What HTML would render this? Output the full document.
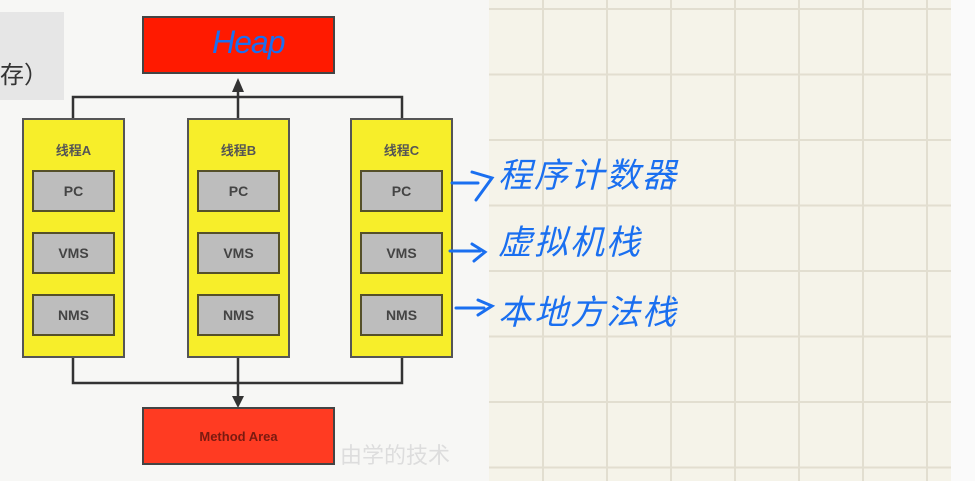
<!DOCTYPE html>
<html><head><meta charset="utf-8"><style>
body{margin:0;width:975px;height:481px;overflow:hidden;background:#f7f7f5;position:relative;font-family:"Liberation Sans","Noto Sans CJK SC",sans-serif}
.a{position:absolute;box-sizing:border-box}
.y{background:#f7ee2a;border:2px solid #555;}
.g{background:#bdbdbd;border:2px solid #55502a;font-weight:bold;color:#444;font-size:14px;display:flex;align-items:center;justify-content:center}
.hw{position:absolute;color:#1a6ff0;font-size:34px;font-family:"WenQuanYi Zen Hei","Noto Sans CJK SC",sans-serif;font-style:italic;letter-spacing:2px}
</style></head><body>
<div class="a" style="left:489px;top:0;width:462px;height:481px;background:#f5f3e9;
background-image:linear-gradient(#e2ded0 2px,transparent 2px),linear-gradient(90deg,#e2ded0 2px,transparent 2px);
background-size:64px 65.5px;background-position:53px 8px"></div>
<div class="a" style="left:951px;top:0;width:24px;height:481px;background:#fafafa"></div>
<div class="a" style="left:0;top:12px;width:64px;height:88px;background:#e6e6e6;font-size:24px;color:#333;padding-top:50px;line-height:28px">存）</div>
<div class="a" style="left:142px;top:16px;width:193px;height:58px;background:#ff1a00;border:2px solid #444"></div>
<div class="hw" style="left:212px;top:24px;font-family:'Liberation Sans',sans-serif;font-size:32px;letter-spacing:-1px">Heap</div>
<svg class="a" style="left:0;top:0" width="490" height="481">
<g stroke="#333" stroke-width="2.5" fill="none">
<path d="M73 118V97H402V118M238 118V88"/>
<path d="M73 358V383H402V358M238 358V398"/>
</g>
<path d="M232 92L238 78L244 92Z" fill="#333"/>
<path d="M232 396L238 408L244 396Z" fill="#333"/>
</svg>
<div class="a" style="left:142px;top:407px;width:193px;height:58px;background:#ff3b22;border:2px solid #444;display:flex;align-items:center;justify-content:center;color:#7a1a10;font-weight:bold;font-size:13px">Method Area</div>
<div class="a" style="left:340px;top:438px;color:#ddd;font-size:22px">由学的技术</div>

<div class="a y" style="left:22px;top:118px;width:103px;height:240px"></div>
<div class="a y" style="left:187px;top:118px;width:103px;height:240px"></div>
<div class="a y" style="left:350px;top:118px;width:103px;height:240px"></div>
<div class="a" style="left:22px;top:140px;width:103px;text-align:center;font-size:13px;font-weight:bold;color:#555">线程A</div>
<div class="a" style="left:187px;top:140px;width:103px;text-align:center;font-size:13px;font-weight:bold;color:#555">线程B</div>
<div class="a" style="left:350px;top:140px;width:103px;text-align:center;font-size:13px;font-weight:bold;color:#555">线程C</div>

<div class="a g" style="left:32px;top:170px;width:83px;height:42px">PC</div>
<div class="a g" style="left:32px;top:232px;width:83px;height:42px">VMS</div>
<div class="a g" style="left:32px;top:294px;width:83px;height:42px">NMS</div>
<div class="a g" style="left:197px;top:170px;width:83px;height:42px">PC</div>
<div class="a g" style="left:197px;top:232px;width:83px;height:42px">VMS</div>
<div class="a g" style="left:197px;top:294px;width:83px;height:42px">NMS</div>
<div class="a g" style="left:360px;top:170px;width:83px;height:42px">PC</div>
<div class="a g" style="left:360px;top:232px;width:83px;height:42px">VMS</div>
<div class="a g" style="left:360px;top:294px;width:83px;height:42px">NMS</div>

<svg class="a" style="left:440px;top:0" width="80" height="481">
<g stroke="#1a6ff0" stroke-width="3" fill="none" stroke-linecap="round">
<path d="M12 183H38M32 172L52 178L36 200"/>
<path d="M10 251H40M32 244L45 252L34 261"/>
<path d="M16 308H44M38 300L52 306L38 315"/>
</g></svg>
<div class="hw" style="left:498px;top:148px">程序计数器</div>
<div class="hw" style="left:498px;top:215px">虚拟机栈</div>
<div class="hw" style="left:498px;top:285px">本地方法栈</div>
</body></html>
